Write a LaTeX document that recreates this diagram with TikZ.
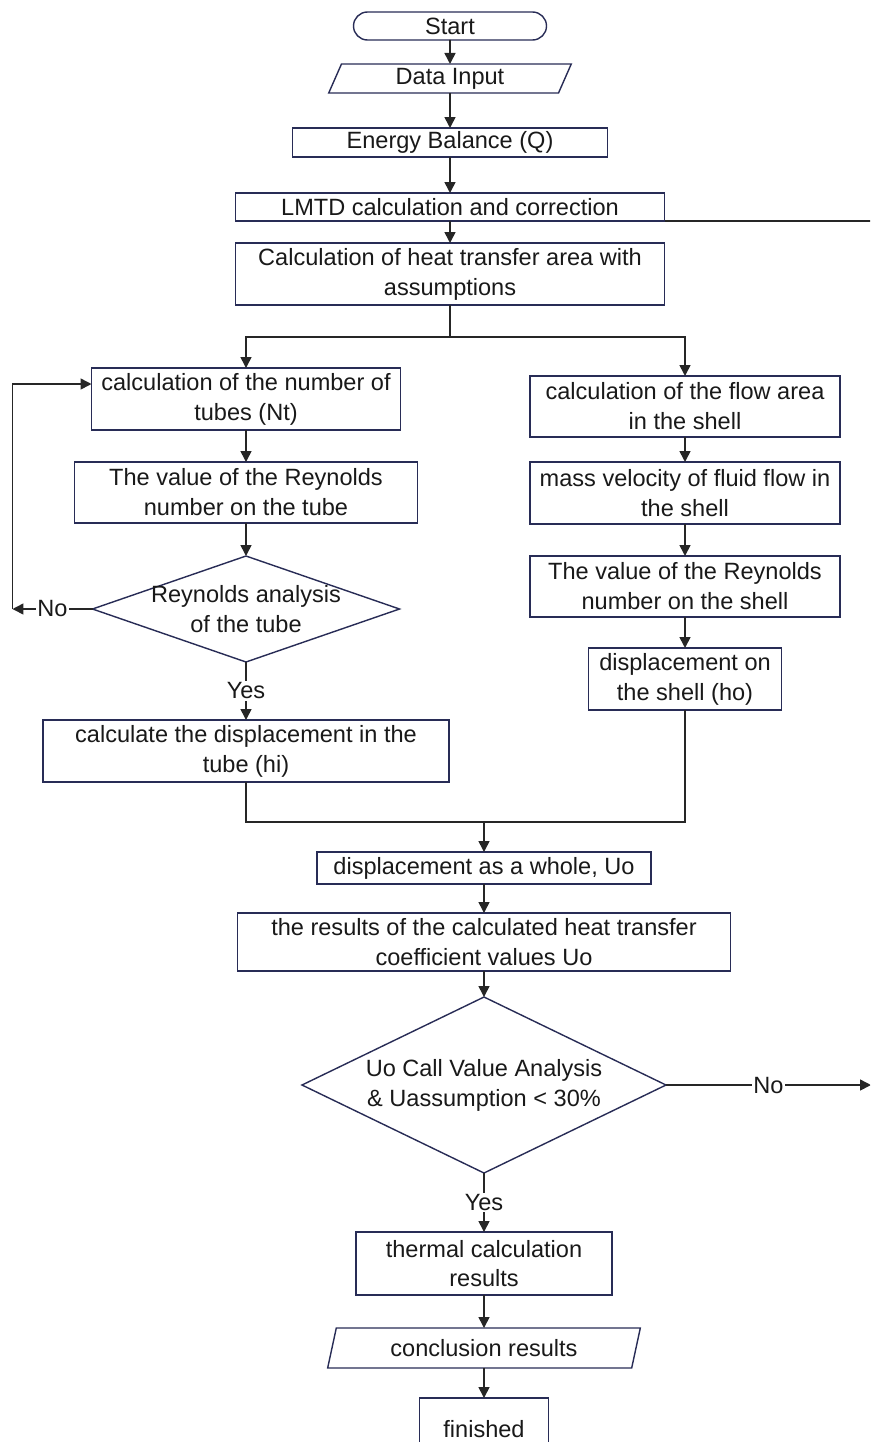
\documentclass[tikz,border=0pt]{standalone}
\usepackage{fontspec}
\setmainfont{Liberation Sans}
\usepackage{xcolor}
\usepackage{tikz}
\usetikzlibrary{arrows.meta, positioning, shapes.geometric}

\definecolor{boxline}{RGB}{40,44,86}

\begin{document}
\begin{tikzpicture}[
    font=\fontsize{13.4pt}{17pt}\selectfont,
    box/.style={rectangle, draw=boxline, line width=0.8pt, align=center, inner xsep=2pt, inner ysep=0pt, outer sep=0pt, fill=white, text=black!90},
    startbox/.style={box, rounded corners=0.28cm, minimum width=3.86cm, minimum height=0.56cm},
    iobox/.style={trapezium, trapezium left angle=75, trapezium right angle=105, trapezium stretches=true, draw=boxline, line width=0.8pt, align=center, inner sep=1pt, outer sep=0pt, fill=white, text=black!90},
    decision/.style={diamond, draw=boxline, line width=0.8pt, align=center, inner sep=-0.15cm, outer sep=0pt, fill=white, text=black!90},
    arrow/.style={-{Triangle[length=0.22cm, width=0.22cm]}, line width=0.9pt, color=black!85},
    line/.style={line width=0.9pt, color=black!85},
    lbl/.style={fill=white, inner sep=1pt, text=black!90}
]
    \useasboundingbox (0,0) rectangle (17.4,-28.84);
    \clip (0,0) rectangle (17.4,-28.84);

    % Main column
    \node[startbox] (start) at (9.0,-0.52) {Start};
    \node[iobox, minimum width=4.86cm, minimum height=0.58cm, below=0.48cm of start] (data) {Data Input};
    \node[box, minimum width=6.3cm, minimum height=0.58cm, below=0.7cm of data] (energy) {Energy Balance (Q)};
    \node[box, minimum width=8.58cm, minimum height=0.56cm, below=0.72cm of energy] (lmtd) {LMTD calculation and correction};
    \node[box, minimum width=8.58cm, minimum height=1.24cm, below=0.44cm of lmtd] (area) {Calculation of heat transfer area with\\assumptions};

    % Tube side
    \node[box, minimum width=6.18cm, minimum height=1.24cm, below=1.26cm of area, xshift=-4.08cm] (ntube) {calculation of the number of\\tubes (Nt)};
    \node[box, minimum width=6.86cm, minimum height=1.22cm, below=0.64cm of ntube] (retube) {The value of the Reynolds\\number on the tube};
    \node[decision, aspect=2.9, minimum width=6.14cm, minimum height=2.12cm, below=0.66cm of retube] (rean) {Reynolds analysis\\of the tube};
    \node[box, minimum width=8.12cm, minimum height=1.24cm, below=1.16cm of rean] (hi) {calculate the displacement in the\\tube (hi)};

    % Shell side
    \node[box, minimum width=6.2cm, minimum height=1.22cm, below=1.42cm of area, xshift=4.7cm] (flow) {calculation of the flow area\\in the shell};
    \node[box, minimum width=6.2cm, minimum height=1.24cm, below=0.5cm of flow] (mass) {mass velocity of fluid flow in\\the shell};
    \node[box, minimum width=6.2cm, minimum height=1.22cm, below=0.64cm of mass] (reshell) {The value of the Reynolds\\number on the shell};
    \node[box, minimum width=3.86cm, minimum height=1.24cm, below=0.62cm of reshell] (ho) {displacement on\\the shell (ho)};

    % Overall coefficient and check
    \node[box, minimum width=6.68cm, minimum height=0.64cm, below=1.4cm of hi, xshift=4.76cm] (uo) {displacement as a whole, Uo};
    \node[box, minimum width=9.86cm, minimum height=1.16cm, below=0.58cm of uo] (coef) {the results of the calculated heat transfer\\coefficient values Uo};
    \node[decision, aspect=2.07, minimum width=7.28cm, minimum height=3.52cm, below=0.52cm of coef] (uoan) {Uo Call Value Analysis\\\& Uassumption < 30\%};

    % Results
    \node[box, minimum width=5.12cm, minimum height=1.26cm, below=1.18cm of uoan] (thermal) {thermal calculation\\results};
    \node[iobox, minimum width=6.26cm, minimum height=0.8cm, below=0.66cm of thermal] (concl) {conclusion results};
    \node[box, minimum width=2.58cm, minimum height=1.24cm, below=0.6cm of concl] (fin) {finished};

    % Arrows
    \draw[arrow] (start) -- (data);
    \draw[arrow] (data) -- (energy);
    \draw[arrow] (energy) -- (lmtd);
    \draw[arrow] (lmtd) -- (area);
    \draw[line] (lmtd.south east) -- ++(4.2,0) coordinate (backR);
    \draw[line] (area.south) -- ++(0,-0.64) coordinate (split);
    \draw[arrow] (split) -| (ntube.north);
    \draw[arrow] (split) -| (flow.north);
    \draw[arrow] (ntube) -- (retube);
    \draw[arrow] (retube) -- (rean);
    \draw[arrow] (rean) -- node[lbl] {Yes} (hi);
    \draw[arrow] (rean.west) -- node[lbl] {No} ++(-1.6,0) coordinate (noL);
    \draw[arrow] (noL) |- ([yshift=0.3cm]ntube.west);
    \draw[arrow] (flow) -- (mass);
    \draw[arrow] (mass) -- (reshell);
    \draw[arrow] (reshell) -- (ho);
    \coordinate (merge) at ([yshift=0.6cm]uo.north);
    \draw[line] (hi.south) |- (merge) -| (ho.south);
    \draw[arrow] (merge) -- (uo);
    \draw[arrow] (uo) -- (coef);
    \draw[arrow] (coef) -- (uoan);
    \draw[arrow] (uoan) -- node[lbl] {Yes} (thermal);
    \draw[arrow] (uoan.east) -- node[lbl] {No} ++(4.1,0) coordinate (noR);
    \draw[arrow] (thermal) -- (concl);
    \draw[arrow] (concl) -- (fin);
\end{tikzpicture}
\end{document}
